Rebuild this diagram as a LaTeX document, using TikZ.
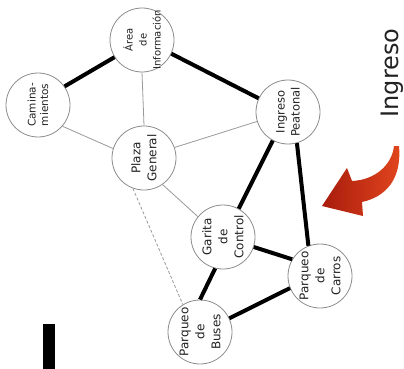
\documentclass[tikz,border=0pt]{standalone}
\usepackage{fontspec}
\setmainfont{DejaVu Sans}
\definecolor{edgegray}{HTML}{9A9A9A}
\definecolor{ringgray}{HTML}{8C8C8C}
\definecolor{txtgray}{HTML}{222222}
\definecolor{arrowdark}{HTML}{A81C0C}
\definecolor{arrowlight}{HTML}{E2461E}
\tikzset{
  circ/.style={circle, draw=ringgray, line width=0.8pt, fill=white, minimum size=64pt, inner sep=0pt},
  txt/.style={rotate=90, align=center, inner sep=0pt, text=txtgray, font=\fontsize{12}{16}\selectfont},
  thick edge/.style={line width=4pt, black},
  thin edge/.style={line width=0.8pt, edgegray},
  dash edge/.style={line width=0.8pt, edgegray, dash pattern=on 3pt off 2pt},
}
\begin{document}
\begin{tikzpicture}[x=1pt, y=-1pt]
\useasboundingbox (0,0) rectangle (404,369);
\fill[white] (0,0) rectangle (404,369);

\coordinate (cA) at (142,40);
\coordinate (cC) at (38,105);
\coordinate (cP) at (144,158);
\coordinate (cI) at (288,112);
\coordinate (cG) at (223,237);
\coordinate (cR) at (320,276);
\coordinate (cB) at (200,332);

% circles
\node[circ] (area) at (cA) {};
\node[circ] (cami) at (cC) {};
\node[circ] (plaza) at (cP) {};
\node[circ] (ingp) at (cI) {};
\node[circ] (garita) at (cG) {};
\node[circ] (carros) at (cR) {};
\node[circ] (buses) at (cB) {};

% connectors
\draw[thick edge] (cami.35) -- (area.212);
\draw[thick edge] (area.-25) -- (ingp.155);
\draw[thin edge] (area.-90) -- (plaza.90);
\draw[thin edge] (cami.-41) -- (plaza.163);
\draw[thin edge] (plaza.19) -- (ingp.197);
\draw[thin edge] (plaza.-55) -- (garita.141);
\draw[dash edge] (plaza.250) -- (buses.122);
\draw[thick edge] (ingp.242) -- (garita.61);
\draw[thick edge] (ingp.-74) -- (carros.111);
\draw[thick edge] (garita.-18) -- (carros.149);
\draw[thick edge] (garita.256) -- (buses.90);
\draw[thick edge] (buses.25) -- (carros.202);

% labels
\node[txt, font=\fontsize{10}{14}\selectfont] (area-t) at (cA) {Área\\de\\Información};
\node[txt, font=\fontsize{10.5}{12.5}\selectfont] (cami-t) at (cC) {Camina-\\mientos};
\node[txt] (plaza-t) at (cP) {Plaza\\General};
\node[txt, font=\fontsize{11.5}{15}\selectfont] (ingp-t) at (cI) {Ingreso\\Peatonal};
\node[txt] (garita-t) at (cG) {Garita\\de\\Control};
\node[txt] (carros-t) at (cR) {Parqueo\\de\\Carros};
\node[txt] (buses-t) at (cB) {Parqueo\\de\\Buses};

% big label
\node[rotate=90, inner sep=0pt, text=txtgray, font=\fontsize{24}{28}\selectfont] (ingresolbl) at (392,73) {Ingreso};

% red curved arrow
\shade[left color=arrowdark, right color=arrowlight]
  (399,146) .. controls (402,180) and (385,197) .. (362,202)
  -- (363,216) -- (322,206) -- (347,168) -- (352,181)
  .. controls (375,180) and (392,165) .. (394,146) -- cycle;

% black bar
\fill[black] (43,324) rectangle (55,369);
\end{tikzpicture}
\end{document}
